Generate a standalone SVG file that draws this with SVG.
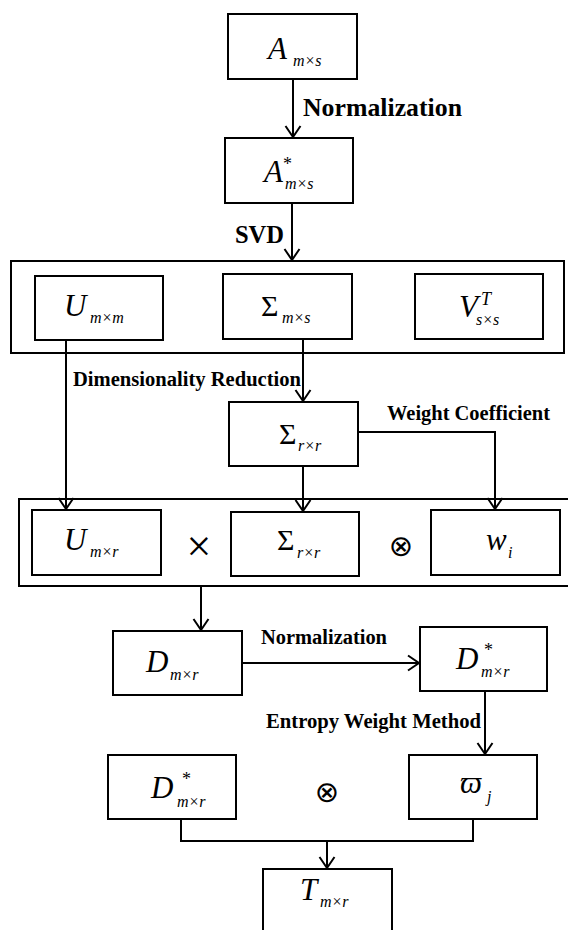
<svg xmlns="http://www.w3.org/2000/svg" width="568" height="930" viewBox="0 0 568 930">
<style>
.box{fill:#fff;stroke:#000;stroke-width:2}
.outer{fill:none;stroke:#000;stroke-width:2}
.conn{fill:none;stroke:#000;stroke-width:2}
text{fill:#000}
.lbl{font-weight:bold}
.big{font-size:25.5px}
.sm{font-size:20.5px}
.m{font-style:italic;font-size:31px}
.g{font-size:30px}
.s{font-style:italic;font-size:16px}
.st{font-size:18px}
.op{font-size:29px}
.x{font-size:44px}
</style>
<defs>
<marker id="ah" markerUnits="userSpaceOnUse" viewBox="0 0 16 18" markerWidth="16" markerHeight="18" refX="12" refY="9" orient="auto" overflow="visible">
<path d="M1,1.5 L12,9 L1,16.5" fill="none" stroke="#000" stroke-width="2"/>
</marker>
</defs>

<g id="svd-group">
<rect class="outer" x="11" y="261" width="553" height="92"/>
</g>
<g id="product-group">
<rect class="outer" x="19" y="499" width="560" height="87"/>
</g>

<g id="connectors">
<line class="conn" x1="293" y1="79" x2="293" y2="137" marker-end="url(#ah)"/>
<line class="conn" x1="292" y1="203" x2="292" y2="260" marker-end="url(#ah)"/>
<line class="conn" x1="66" y1="340" x2="66" y2="509" marker-end="url(#ah)"/>
<line class="conn" x1="303" y1="339" x2="303" y2="401" marker-end="url(#ah)"/>
<polyline class="conn" points="358,432 495,432 495,509" marker-end="url(#ah)"/>
<line class="conn" x1="303" y1="466" x2="303" y2="511" marker-end="url(#ah)"/>
<line class="conn" x1="201" y1="586" x2="201" y2="630" marker-end="url(#ah)"/>
<line class="conn" x1="242" y1="663" x2="419" y2="663" marker-end="url(#ah)"/>
<line class="conn" x1="485" y1="691" x2="485" y2="754" marker-end="url(#ah)"/>
<polyline class="conn" points="181,819 181,841 473,841 473,819"/>
<line class="conn" x1="327" y1="841" x2="327" y2="868" marker-end="url(#ah)"/>
</g>

<g id="labels" font-family="'Liberation Serif', 'Times New Roman', serif">
<text class="lbl big" x="303" y="116" textLength="159" lengthAdjust="spacingAndGlyphs">Normalization</text>
<text class="lbl big" x="235" y="243" textLength="49" lengthAdjust="spacingAndGlyphs">SVD</text>
<text class="lbl sm" x="73" y="386" textLength="228" lengthAdjust="spacingAndGlyphs">Dimensionality Reduction</text>
<text class="lbl sm" x="387" y="420" textLength="163" lengthAdjust="spacingAndGlyphs">Weight Coefficient</text>
<text class="lbl sm" x="261" y="644" textLength="126" lengthAdjust="spacingAndGlyphs">Normalization</text>
<text class="lbl sm" x="266" y="728" textLength="215" lengthAdjust="spacingAndGlyphs">Entropy Weight Method</text>
</g>

<g id="nodes" font-family="'Liberation Serif', 'Times New Roman', serif">
<g id="node-A">
<rect class="box" x="228" y="14" width="129" height="65"/>
<text class="m" x="268" y="59">A</text>
<text class="s" x="293" y="66">m×s</text>
</g>
<g id="node-Astar">
<rect class="box" x="225" y="138" width="128" height="65"/>
<text class="m" x="264" y="182">A</text>
<text class="st" x="283" y="170">*</text>
<text class="s" x="285" y="189">m×s</text>
</g>
<g id="node-U">
<rect class="box" x="35" y="276" width="128" height="64"/>
<text class="m" x="64" y="316">U</text>
<text class="s" x="90" y="323">m×m</text>
</g>
<g id="node-Sigma">
<rect class="box" x="223" y="274" width="129" height="65"/>
<text class="g" x="261" y="316">Σ</text>
<text class="s" x="282" y="323">m×s</text>
</g>
<g id="node-VT">
<rect class="box" x="415" y="274" width="128" height="65"/>
<text class="m" x="459" y="317">V</text>
<text class="st" x="481" y="305" font-style="italic">T</text>
<text class="s" x="476" y="325">s×s</text>
</g>
<g id="node-Sigma-r">
<rect class="box" x="229" y="402" width="129" height="64"/>
<text class="g" x="279" y="444">Σ</text>
<text class="s" x="298" y="451">r×r</text>
</g>
<g id="node-U-r">
<rect class="box" x="32" y="510" width="129" height="65"/>
<text class="m" x="64" y="550">U</text>
<text class="s" x="90" y="557">m×r</text>
</g>
<g id="op-times">
<text class="x" x="199" y="561" text-anchor="middle">×</text>
</g>
<g id="node-Sigma-r2">
<rect class="box" x="231" y="512" width="128" height="64"/>
<text class="g" x="277" y="550">Σ</text>
<text class="s" x="297" y="558">r×r</text>
</g>
<g id="op-otimes1">
<text class="op" x="401" y="556" text-anchor="middle" font-family="'DejaVu Sans', sans-serif">⊗</text>
</g>
<g id="node-w">
<rect class="box" x="431" y="510" width="129" height="65"/>
<text class="m" x="486" y="550">w</text>
<text class="s" x="508" y="558">i</text>
</g>
<g id="node-D">
<rect class="box" x="113" y="631" width="129" height="64"/>
<text class="m" x="146" y="672">D</text>
<text class="s" x="170" y="680">m×r</text>
</g>
<g id="node-Dstar">
<rect class="box" x="420" y="627" width="127" height="64"/>
<text class="m" x="456" y="669">D</text>
<text class="st" x="484" y="656">*</text>
<text class="s" x="481" y="677">m×r</text>
</g>
<g id="node-Dstar2">
<rect class="box" x="108" y="755" width="128" height="64"/>
<text class="m" x="151" y="798">D</text>
<text class="st" x="182" y="785">*</text>
<text class="s" x="177" y="807">m×r</text>
</g>
<g id="op-otimes2">
<text class="op" x="327" y="802" text-anchor="middle" font-family="'DejaVu Sans', sans-serif">⊗</text>
</g>
<g id="node-varpi">
<rect class="box" x="409" y="755" width="128" height="64"/>
<text class="m" x="460" y="793">ϖ</text>
<text class="s" x="487" y="802">j</text>
</g>
<g id="node-T">
<rect class="box" x="263" y="869" width="129" height="70"/>
<text class="m" x="300" y="900">T</text>
<text class="s" x="320" y="907">m×r</text>
</g>
</g>
</svg>
